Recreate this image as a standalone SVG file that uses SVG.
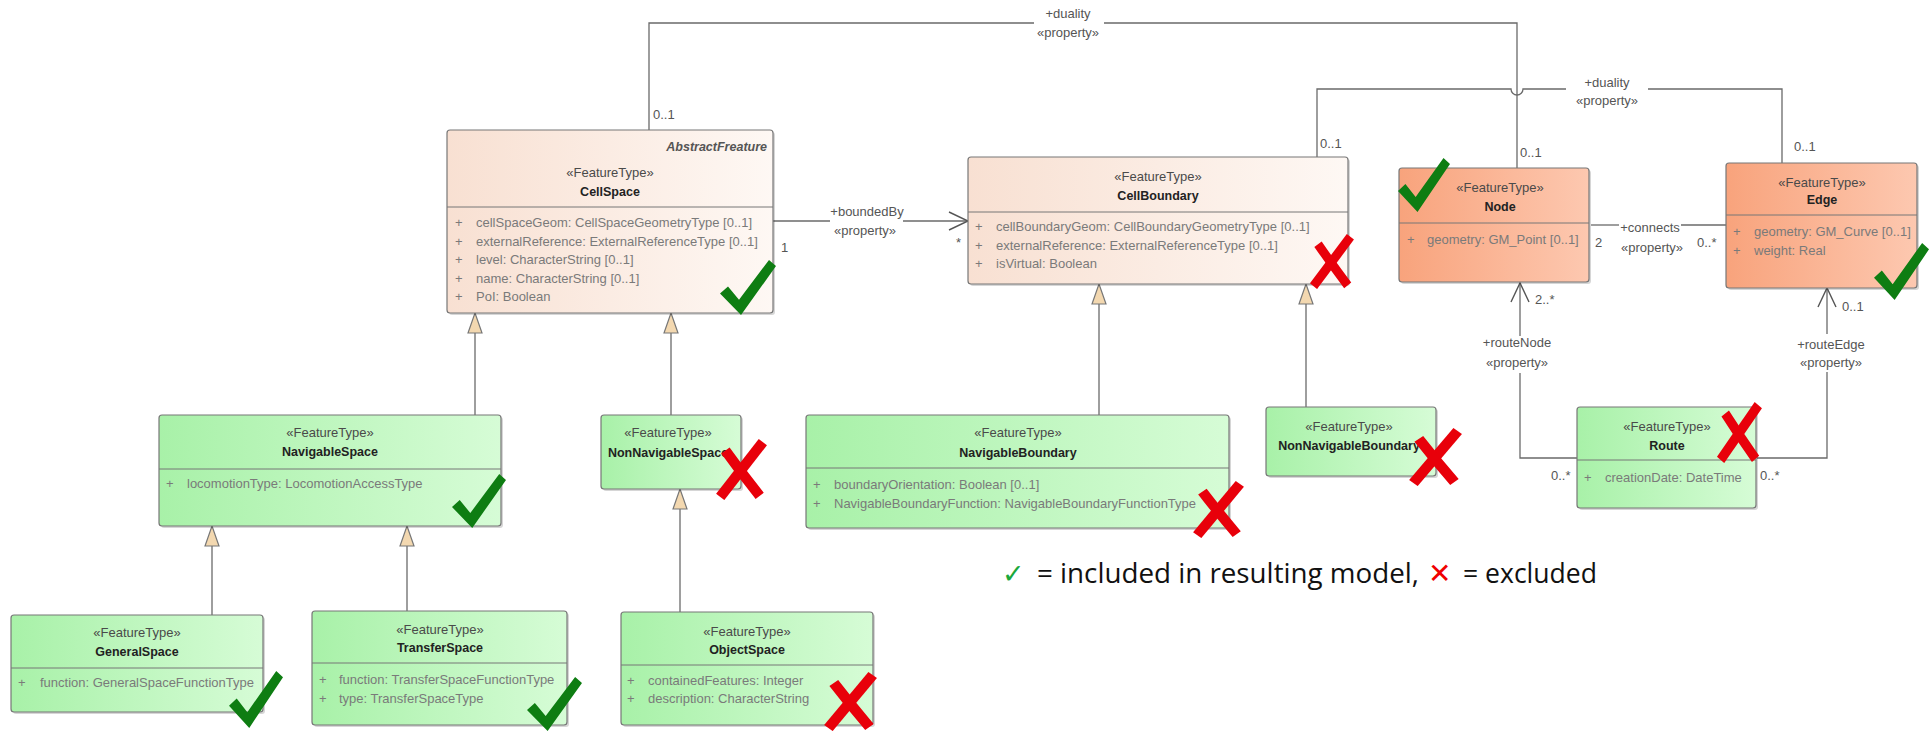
<svg xmlns="http://www.w3.org/2000/svg" width="1930" height="731" viewBox="0 0 1930 731">
<style>
.box{stroke:#777;stroke-width:1.2}
.sh{fill:#000;opacity:0.16}
.dv{stroke:#777;stroke-width:1}
.peach{fill:url(#gPeach)}
.orange{fill:url(#gOrange)}
.green{fill:url(#gGreen)}
.st{font:13px "Liberation Sans",Arial,sans-serif;fill:#4a4a4a;text-anchor:middle}
.nm{font:bold 12.5px "Liberation Sans",Arial,sans-serif;fill:#222;text-anchor:middle}
.ab{font:italic bold 12.5px "Liberation Sans",Arial,sans-serif;fill:#555;text-anchor:end}
.at{font:13px "Liberation Sans",Arial,sans-serif;fill:#7a7a7a}
.lb{font:13px "Liberation Sans",Arial,sans-serif;fill:#555}
.lc{font:13px "Liberation Sans",Arial,sans-serif;fill:#555;text-anchor:middle}
.ln{fill:none;stroke:#6a6a6a;stroke-width:1.3}
.gen{marker-end:url(#mGen)}
.opn{marker-end:url(#mOpen)}
.lg{font:27px "Open Sans","Liberation Sans",Arial,sans-serif;fill:#111}
</style>
<defs>
<linearGradient id="gPeach" x1="0" y1="0" x2="1" y2="0"><stop offset="0" stop-color="#f8e0d2"/><stop offset="1" stop-color="#fef8f4"/></linearGradient>
<linearGradient id="gOrange" x1="0" y1="0" x2="1" y2="0"><stop offset="0" stop-color="#f8a37c"/><stop offset="1" stop-color="#fdc8b0"/></linearGradient>
<linearGradient id="gGreen" x1="0" y1="0" x2="1" y2="0"><stop offset="0" stop-color="#a8f1a8"/><stop offset="1" stop-color="#d6fcd6"/></linearGradient>
<marker id="mGen" viewBox="0 0 22 16" refX="21" refY="8" markerWidth="22" markerHeight="16" markerUnits="userSpaceOnUse" orient="auto"><path d="M1,1 L21,8 L1,15 Z" fill="#f3d8b0" stroke="#777" stroke-width="1.2"/></marker>
<marker id="mOpen" viewBox="0 0 22 20" refX="20" refY="10" markerWidth="22" markerHeight="20" markerUnits="userSpaceOnUse" orient="auto"><path d="M1,1 L20,10 L1,19" fill="none" stroke="#555" stroke-width="1.4"/></marker>
<symbol id="chk" viewBox="0 0 56 54" preserveAspectRatio="none"><path d="M0,33 L8,26 L19,39 L49,0 L56,6 L21,54 Z" fill="#0e7d12"/></symbol>
<symbol id="crs" viewBox="0 0 50 60" preserveAspectRatio="none"><path d="M5,57 C18,40 32,22 46,4" fill="none" stroke="#e8000a" stroke-width="10"/><path d="M10,12 C20,26 32,42 43,56" fill="none" stroke="#e8000a" stroke-width="10"/></symbol>
</defs>
<rect width="1930" height="731" fill="#fff"/>

<g id="connectors">
<path class="ln" d="M649,130 V23 H1034"/>
<path class="ln" d="M1104,23 H1517 V168"/>
<path class="ln" d="M1317,157 V89 H1511 A6,6 0 0 0 1523,89 H1566"/>
<path class="ln" d="M1648,89 H1782 V163"/>
<path class="ln" d="M773,221 H830"/>
<path class="ln opn" d="M903,221 H968"/>
<path class="ln" d="M1591,225 H1619"/>
<path class="ln" d="M1681,225 H1726"/>
<path class="ln" d="M1577,458 H1520 V373"/>
<path class="ln opn" d="M1520,336 V283"/>
<path class="ln" d="M1757,458 H1827 V372"/>
<path class="ln opn" d="M1827,334 V288"/>
<path class="ln gen" d="M475,415 V313"/>
<path class="ln gen" d="M671,415 V313"/>
<path class="ln gen" d="M1099,415 V284"/>
<path class="ln gen" d="M1306,407 V284"/>
<path class="ln gen" d="M212,615 V526"/>
<path class="ln gen" d="M407,611 V526"/>
<path class="ln gen" d="M680,612 V489"/>
<text class="lc" x="1068" y="18">+duality</text>
<text class="lc" x="1068" y="37">«property»</text>
<text class="lb" x="653" y="119">0..1</text>
<text class="lb" x="1520" y="157">0..1</text>
<text class="lc" x="1607" y="87">+duality</text>
<text class="lc" x="1607" y="105">«property»</text>
<text class="lb" x="1320" y="148">0..1</text>
<text class="lb" x="1794" y="151">0..1</text>
<text class="lc" x="867" y="216">+boundedBy</text>
<text class="lc" x="865" y="235">«property»</text>
<text class="lb" x="781" y="252">1</text>
<text class="lb" x="956" y="247">*</text>
<text class="lc" x="1650" y="232">+connects</text>
<text class="lc" x="1652" y="252">«property»</text>
<text class="lb" x="1595" y="247">2</text>
<text class="lb" x="1697" y="247">0..*</text>
<text class="lc" x="1517" y="347">+routeNode</text>
<text class="lc" x="1517" y="367">«property»</text>
<text class="lb" x="1535" y="304">2..*</text>
<text class="lb" x="1551" y="480">0..*</text>
<text class="lc" x="1831" y="349">+routeEdge</text>
<text class="lc" x="1831" y="367">«property»</text>
<text class="lb" x="1842" y="311">0..1</text>
<text class="lb" x="1760" y="480">0..*</text>
</g>

<g id="CellSpace">
<rect class="sh" x="449" y="132" width="326" height="183" rx="3"/>
<rect class="box peach" x="447" y="130" width="326" height="183" rx="3"/>
<line class="dv" x1="447" y1="207" x2="773" y2="207"/>
<text class="ab" x="767" y="151">AbstractFreature</text>
<text class="st" x="610" y="177">«FeatureType»</text>
<text class="nm" x="610" y="196">CellSpace</text>
<text class="at" x="455" y="227">+</text><text class="at" x="476" y="227">cellSpaceGeom: CellSpaceGeometryType [0..1]</text>
<text class="at" x="455" y="246">+</text><text class="at" x="476" y="246">externalReference: ExternalReferenceType [0..1]</text>
<text class="at" x="455" y="264">+</text><text class="at" x="476" y="264">level: CharacterString [0..1]</text>
<text class="at" x="455" y="283">+</text><text class="at" x="476" y="283">name: CharacterString [0..1]</text>
<text class="at" x="455" y="301">+</text><text class="at" x="476" y="301">PoI: Boolean</text>
<use href="#chk" x="720" y="260" width="56" height="55"/>
</g>

<g id="CellBoundary">
<rect class="sh" x="970" y="159" width="380" height="127" rx="3"/>
<rect class="box peach" x="968" y="157" width="380" height="127" rx="3"/>
<line class="dv" x1="968" y1="212" x2="1348" y2="212"/>
<text class="st" x="1158" y="181">«FeatureType»</text>
<text class="nm" x="1158" y="200">CellBoundary</text>
<text class="at" x="975" y="231">+</text><text class="at" x="996" y="231">cellBoundaryGeom: CellBoundaryGeometryType [0..1]</text>
<text class="at" x="975" y="250">+</text><text class="at" x="996" y="250">externalReference: ExternalReferenceType [0..1]</text>
<text class="at" x="975" y="268">+</text><text class="at" x="996" y="268">isVirtual: Boolean</text>
<use href="#crs" x="1309" y="233" width="45" height="56"/>
</g>

<g id="Node">
<rect class="sh" x="1401" y="170" width="190" height="114" rx="3"/>
<rect class="box orange" x="1399" y="168" width="190" height="114" rx="3"/>
<line class="dv" x1="1399" y1="223" x2="1589" y2="223"/>
<text class="st" x="1500" y="192">«FeatureType»</text>
<text class="nm" x="1500" y="211">Node</text>
<text class="at" x="1407" y="244">+</text><text class="at" x="1427" y="244">geometry: GM_Point [0..1]</text>
<use href="#chk" x="1398" y="158" width="52" height="54"/>
</g>

<g id="Edge">
<rect class="sh" x="1728" y="165" width="191" height="125" rx="3"/>
<rect class="box orange" x="1726" y="163" width="191" height="125" rx="3"/>
<line class="dv" x1="1726" y1="215" x2="1917" y2="215"/>
<text class="st" x="1822" y="187">«FeatureType»</text>
<text class="nm" x="1822" y="204">Edge</text>
<text class="at" x="1733" y="236">+</text><text class="at" x="1754" y="236">geometry: GM_Curve [0..1]</text>
<text class="at" x="1733" y="255">+</text><text class="at" x="1754" y="255">weight: Real</text>
<use href="#chk" x="1874" y="243" width="55" height="57"/>
</g>

<g id="NavigableSpace">
<rect class="sh" x="161" y="417" width="342" height="111" rx="3"/>
<rect class="box green" x="159" y="415" width="342" height="111" rx="3"/>
<line class="dv" x1="159" y1="469" x2="501" y2="469"/>
<text class="st" x="330" y="437">«FeatureType»</text>
<text class="nm" x="330" y="456">NavigableSpace</text>
<text class="at" x="166" y="488">+</text><text class="at" x="187" y="488">locomotionType: LocomotionAccessType</text>
<use href="#chk" x="452" y="474" width="54" height="54"/>
</g>

<g id="NonNavigableSpace">
<rect class="sh" x="603" y="417" width="140" height="74" rx="3"/>
<rect class="box green" x="601" y="415" width="140" height="74" rx="3"/>
<text class="st" x="668" y="437">«FeatureType»</text>
<text class="nm" x="668" y="457">NonNavigableSpace</text>
<use href="#crs" x="715" y="438" width="52" height="62"/>
</g>

<g id="NavigableBoundary">
<rect class="sh" x="808" y="417" width="423" height="113" rx="3"/>
<rect class="box green" x="806" y="415" width="423" height="113" rx="3"/>
<line class="dv" x1="806" y1="468" x2="1229" y2="468"/>
<text class="st" x="1018" y="437">«FeatureType»</text>
<text class="nm" x="1018" y="457">NavigableBoundary</text>
<text class="at" x="813" y="489">+</text><text class="at" x="834" y="489">boundaryOrientation: Boolean [0..1]</text>
<text class="at" x="813" y="508">+</text><text class="at" x="834" y="508">NavigableBoundaryFunction: NavigableBoundaryFunctionType</text>
<use href="#crs" x="1192" y="480" width="52" height="58"/>
</g>

<g id="NonNavigableBoundary">
<rect class="sh" x="1268" y="409" width="170" height="69" rx="3"/>
<rect class="box green" x="1266" y="407" width="170" height="69" rx="3"/>
<text class="st" x="1349" y="431">«FeatureType»</text>
<text class="nm" x="1349" y="450">NonNavigableBoundary</text>
<use href="#crs" x="1408" y="427" width="54" height="59"/>
</g>

<g id="Route">
<rect class="sh" x="1579" y="409" width="179" height="101" rx="3"/>
<rect class="box green" x="1577" y="407" width="179" height="101" rx="3"/>
<line class="dv" x1="1577" y1="460" x2="1756" y2="460"/>
<text class="st" x="1667" y="431">«FeatureType»</text>
<text class="nm" x="1667" y="450">Route</text>
<text class="at" x="1584" y="482">+</text><text class="at" x="1605" y="482">creationDate: DateTime</text>
<use href="#crs" x="1716" y="401" width="46" height="62"/>
</g>

<g id="GeneralSpace">
<rect class="sh" x="13" y="617" width="252" height="97" rx="3"/>
<rect class="box green" x="11" y="615" width="252" height="97" rx="3"/>
<line class="dv" x1="11" y1="668" x2="263" y2="668"/>
<text class="st" x="137" y="637">«FeatureType»</text>
<text class="nm" x="137" y="656">GeneralSpace</text>
<text class="at" x="18" y="687">+</text><text class="at" x="40" y="687">function: GeneralSpaceFunctionType</text>
<use href="#chk" x="229" y="671" width="54" height="57"/>
</g>

<g id="TransferSpace">
<rect class="sh" x="314" y="613" width="255" height="114" rx="3"/>
<rect class="box green" x="312" y="611" width="255" height="114" rx="3"/>
<line class="dv" x1="312" y1="663" x2="567" y2="663"/>
<text class="st" x="440" y="634">«FeatureType»</text>
<text class="nm" x="440" y="652">TransferSpace</text>
<text class="at" x="319" y="684">+</text><text class="at" x="339" y="684">function: TransferSpaceFunctionType</text>
<text class="at" x="319" y="703">+</text><text class="at" x="339" y="703">type: TransferSpaceType</text>
<use href="#chk" x="527" y="677" width="55" height="54"/>
</g>

<g id="ObjectSpace">
<rect class="sh" x="623" y="614" width="252" height="113" rx="3"/>
<rect class="box green" x="621" y="612" width="252" height="113" rx="3"/>
<line class="dv" x1="621" y1="665" x2="873" y2="665"/>
<text class="st" x="747" y="636">«FeatureType»</text>
<text class="nm" x="747" y="654">ObjectSpace</text>
<text class="at" x="627" y="685">+</text><text class="at" x="648" y="685">containedFeatures: Integer</text>
<text class="at" x="627" y="703">+</text><text class="at" x="648" y="703">description: CharacterString</text>
<use href="#crs" x="823" y="671" width="54" height="60"/>
</g>

<g id="legend">
<text x="1002" y="583" style="font:27px 'DejaVu Sans',sans-serif;fill:#1aa83c">✓</text>
<text class="lg" x="1037" y="583" textLength="382" lengthAdjust="spacingAndGlyphs">= included in resulting model,</text>
<text x="1428" y="583" style="font:28px 'DejaVu Sans',sans-serif;fill:#f00000">✕</text>
<text class="lg" x="1463" y="583" textLength="134" lengthAdjust="spacingAndGlyphs">= excluded</text>
</g>
</svg>
